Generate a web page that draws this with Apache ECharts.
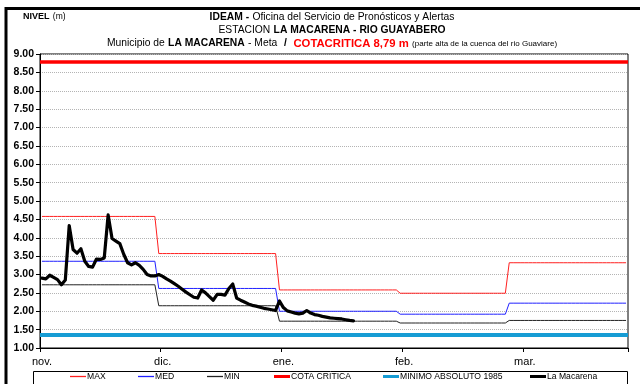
<!DOCTYPE html>
<html>
<head>
<meta charset="utf-8">
<script src="https://cdn.jsdelivr.net/npm/echarts@6/dist/echarts.min.js"></script>
<style>
  html, body { margin: 0; padding: 0; background: #fff; }
  #chart { width: 640px; height: 384px; }
</style>
</head>
<body>
<div id="chart"></div>
<script>
// Season Nov - Mar, one category per day
const monthAbbr = ['nov', 'dic', 'ene', 'feb', 'mar'];
const monthLabels = ['nov.', 'dic.', 'ene.', 'feb.', 'mar.'];
const daysInMonth = [30, 31, 31, 28, 31];

// Historical monthly levels (m)
const maxByMonth = [4.58, 3.57, 2.58, 2.49, 3.32];
const medByMonth = [3.36, 2.62, 2.00, 1.92, 2.22];
const minByMonth = [2.72, 2.15, 1.73, 1.68, 1.75];

// Reference levels (m)
const cotaCritica = 8.79;
const minimoAbsoluto1985 = 1.37;

// Daily observed level at La Macarena (m), from 1 Nov
const nivelLaMacarena = [
  2.90, 2.88, 2.98, 2.92, 2.86, 2.72, 2.85, 4.33, 3.68, 3.58,
  3.70, 3.36, 3.22, 3.20, 3.42, 3.41, 3.45, 4.62, 3.98, 3.91,
  3.84, 3.55, 3.32, 3.26, 3.32, 3.25, 3.14, 3.00, 2.96, 2.96,
  3.00, 2.95, 2.88, 2.82, 2.75, 2.68, 2.60, 2.52, 2.45, 2.38,
  2.36, 2.58, 2.50, 2.40, 2.30, 2.46, 2.46, 2.44, 2.62, 2.74,
  2.36, 2.30, 2.25, 2.20, 2.16, 2.14, 2.11, 2.08, 2.06, 2.04,
  2.02, 2.28, 2.10, 2.01, 1.98, 1.95, 1.93, 1.95, 2.02, 1.95,
  1.91, 1.89, 1.86, 1.84, 1.82, 1.81, 1.80, 1.79, 1.77, 1.75,
  1.74
];

// Y axis range (m)
const yMin = 1.0, yMax = 9.0, yStep = 0.5;

const FONT = "'Liberation Sans', Arial, sans-serif";

// Series colours
const C_MAX = '#ff2020', C_MED = '#2020ff', C_MIN = '#222222';
const C_COTA = '#ff0000', C_MINABS = '#169cd4', C_OBS = '#000000';

// Day categories
const days = [];
daysInMonth.forEach((n, m) => {
  for (let d = 1; d <= n; d++) days.push(d + '-' + monthAbbr[m]);
});

// Repeat each monthly value over the days of its month
function dailyFromMonthly(values) {
  const out = [];
  values.forEach((v, m) => { for (let d = 0; d < daysInMonth[m]; d++) out.push(v); });
  return out;
}

const chart = echarts.init(document.getElementById('chart'), null, { renderer: 'canvas' });

function legendAt(left, name, color, thick) {
  return {
    left: left, top: 372, padding: 0,
    itemWidth: 16, itemHeight: 4, itemGap: 0,
    data: [{
      name: name,
      icon: thick ? 'path://M0,0h16v3h-16z' : 'path://M0,0h16v1.3h-16z',
      itemStyle: { color: color, borderWidth: 0 }
    }],
    selectedMode: false,
    textStyle: { fontFamily: FONT, fontSize: 8.6, color: '#000', padding: [0, 0, 0, -4] }
  };
}

chart.setOption({
  animation: false,
  backgroundColor: '#fff',
  textStyle: { fontFamily: FONT },
  grid: {
    left: 40, right: 12, top: 54, bottom: 36,
    show: true, borderColor: '#000', borderWidth: 1, backgroundColor: 'transparent'
  },
  legend: [
    legendAt(70, 'MAX', C_MAX, false),
    legendAt(138, 'MED', C_MED, false),
    legendAt(207, 'MIN', C_MIN, false),
    legendAt(274, 'COTA CRITICA', C_COTA, true),
    legendAt(383, 'MINIMO ABSOLUTO 1985', C_MINABS, true),
    legendAt(530, 'La Macarena', C_OBS, true)
  ],
  xAxis: {
    type: 'category',
    data: days,
    boundaryGap: true,
    axisLine: { lineStyle: { color: '#000', width: 1 } },
    axisTick: { show: true, interval: 30, length: 4, lineStyle: { color: '#000' } },
    axisLabel: {
      interval: 30,
      margin: 8,
      fontFamily: FONT, fontSize: 11, color: '#000',
      formatter: (v, i) => monthLabels[Math.round(i / 31)]
    },
    splitLine: { show: false }
  },
  yAxis: {
    type: 'value',
    min: yMin, max: yMax, interval: yStep,
    axisLine: { show: true, lineStyle: { color: '#000', width: 1 } },
    axisTick: { show: true, length: 4, lineStyle: { color: '#000' } },
    axisLabel: {
      margin: 6,
      fontFamily: FONT, fontSize: 10.5, fontWeight: 'bold', color: '#000',
      formatter: v => v.toFixed(2)
    },
    splitLine: { show: true, lineStyle: { color: '#b4b4b4', width: 1, type: [1, 1] } }
  },
  series: [
    {
      name: 'MAX', type: 'line', data: dailyFromMonthly(maxByMonth),
      symbol: 'none', color: C_MAX, itemStyle: { color: C_MAX },
      lineStyle: { color: C_MAX, width: 1 }, z: 3
    },
    {
      name: 'MED', type: 'line', data: dailyFromMonthly(medByMonth),
      symbol: 'none', color: C_MED, itemStyle: { color: C_MED },
      lineStyle: { color: C_MED, width: 1 }, z: 3
    },
    {
      name: 'MIN', type: 'line', data: dailyFromMonthly(minByMonth),
      symbol: 'none', color: C_MIN, itemStyle: { color: C_MIN },
      lineStyle: { color: C_MIN, width: 1 }, z: 3
    },
    {
      name: 'COTA CRITICA', type: 'line', data: [],
      symbol: 'none', color: C_COTA, itemStyle: { color: C_COTA },
      markLine: {
        silent: true, symbol: ['none', 'none'],
        label: { show: false },
        lineStyle: { color: C_COTA, width: 3.5, type: 'solid' },
        data: [{ yAxis: cotaCritica }]
      }
    },
    {
      name: 'MINIMO ABSOLUTO 1985', type: 'line', data: [],
      symbol: 'none', color: C_MINABS, itemStyle: { color: C_MINABS },
      markLine: {
        silent: true, symbol: ['none', 'none'],
        label: { show: false },
        lineStyle: { color: C_MINABS, width: 4, type: 'solid' },
        data: [{ yAxis: minimoAbsoluto1985 }]
      }
    },
    {
      name: 'La Macarena', type: 'line', data: nivelLaMacarena,
      symbol: 'none', color: C_OBS, itemStyle: { color: C_OBS },
      lineStyle: { color: C_OBS, width: 3.2, join: 'round', cap: 'round' }, z: 5
    }
  ],
  graphic: [
    {
      type: 'rect', silent: true, z: -1,
      shape: { x: 6, y: 8.5, width: 700, height: 500 },
      style: { fill: 'none', stroke: '#000', lineWidth: 3 }
    },
    {
      type: 'rect', silent: true,
      shape: { x: 33.5, y: 371.5, width: 594, height: 30 },
      style: { fill: 'none', stroke: '#000', lineWidth: 1 }
    },
    {
      type: 'text', silent: true, x: 23, y: 17,
      style: {
        text: '{b|NIVEL} {n|(m)}', verticalAlign: 'middle',
        rich: {
          b: { fontFamily: FONT, fontSize: 9, fontWeight: 'bold', fill: '#000' },
          n: { fontFamily: FONT, fontSize: 8.5, fill: '#000' }
        }
      }
    },
    {
      type: 'text', silent: true, x: 332, y: 17,
      style: {
        text: '{b|IDEAM -} {n|Oficina del Servicio de Pronósticos y Alertas}',
        align: 'center', verticalAlign: 'middle',
        rich: {
          b: { fontFamily: FONT, fontSize: 10.3, fontWeight: 'bold', fill: '#000' },
          n: { fontFamily: FONT, fontSize: 10.3, fill: '#000' }
        }
      }
    },
    {
      type: 'text', silent: true, x: 332, y: 30.5,
      style: {
        text: '{n|ESTACION} {b|LA MACARENA - RIO GUAYABERO}',
        align: 'center', verticalAlign: 'middle',
        rich: {
          b: { fontFamily: FONT, fontSize: 10.3, fontWeight: 'bold', fill: '#000' },
          n: { fontFamily: FONT, fontSize: 10.3, fill: '#000' }
        }
      }
    },
    {
      type: 'text', silent: true, x: 332, y: 43.5,
      style: {
        text: '{n|Municipio de} {b|LA MACARENA} {n|- Meta}  {b|/}  {r|COTACRITICA 8,79 m} {s|(parte alta de la cuenca del rio Guaviare)}',
        align: 'center', verticalAlign: 'middle',
        rich: {
          b: { fontFamily: FONT, fontSize: 10.3, fontWeight: 'bold', fill: '#000' },
          n: { fontFamily: FONT, fontSize: 10.3, fill: '#000' },
          r: { fontFamily: FONT, fontSize: 11.3, fontWeight: 'bold', fill: '#ff0000' },
          s: { fontFamily: FONT, fontSize: 8, fill: '#000' }
        }
      }
    }
  ]
});
</script>
</body>
</html>
